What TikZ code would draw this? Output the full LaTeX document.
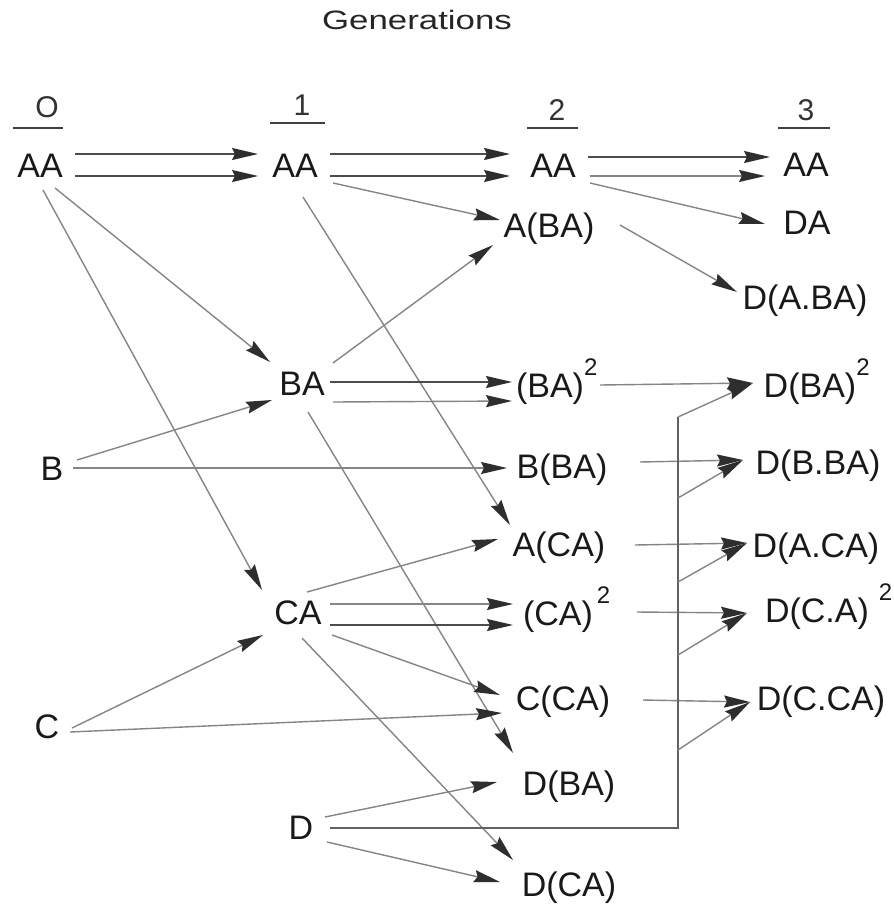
\documentclass[tikz,border=0pt]{standalone}
\usepackage{fontspec}
\setmainfont{Liberation Sans}
\usetikzlibrary{arrows.meta}
\newcommand\supx[2][0pt]{\rlap{\hspace{#1}\raisebox{11pt}{\fontsize{12}{12}\selectfont #2}}}
\begin{document}
\begin{tikzpicture}[x=0.5pt,y=-0.5pt,
  lbl/.style={inner sep=0pt, font=\fontsize{17}{20}\selectfont, text=black!90, text height=12.2pt, text depth=0pt},
  hdr/.style={inner sep=0pt, font=\fontsize{15}{18}\selectfont, text=black!80, text height=10.7pt, text depth=0pt},
  uline/.style={draw=black!75, line width=1pt},
  tip/.style={-{Stealth[length=13pt,width=6pt,inset=1.5pt,color=black!82]}},
  dk/.style={tip, draw=black!70, line width=0.8pt},
  lt/.style={tip, draw=black!48, line width=0.7pt},
  plain/.style={draw=black!48, line width=0.7pt}
]
\useasboundingbox (0,0) rectangle (894,905);
\fill[white] (0,0) rectangle (894,905);

% title and headers
\node[inner sep=0pt, text height=9.5pt, text depth=0pt, text=black!85] (title) at (417,20)
  {\fontsize{13.3}{16}\selectfont\scalebox{1.31}[1]{Generations}};
\node[hdr] (H0) at (47,107) {O};
\node[hdr] (H1) at (302,105) {1};
\node[hdr] (H2) at (557,110) {2};
\node[hdr] (H3) at (806,110) {3};
\draw[uline] ([shift={(-34,21)}]H0.center) -- ([shift={(16,21)}]H0.center);
\draw[uline] ([shift={(-32,18)}]H1.center) -- ([shift={(23,18)}]H1.center);
\draw[uline] ([shift={(-30,18)}]H2.center) -- ([shift={(21,18)}]H2.center);
\draw[uline] ([shift={(-28,18)}]H3.center) -- ([shift={(24,18)}]H3.center);

% nodes
\node[lbl] (AA0) at (40,165) {AA};
\node[lbl] (AA1) at (295,165) {AA};
\node[lbl] (AA2) at (553,165) {AA};
\node[lbl] (AA3) at (806,164) {AA};
\node[lbl] (DA) at (807,222) {DA};
\node[lbl] (ABA) at (549,225) {A(BA)};
\node[lbl] (DABA) at (805,297) {D(A.BA)};
\node[lbl] (BA) at (302,383) {BA};
\node[lbl] (BA2) at (550,385) {(BA)\supx{2}};
\node[lbl] (DBA2) at (810,385) {D(BA)\supx{2}};
\node[lbl] (B) at (52,468) {B};
\node[lbl] (BBA) at (562,466) {B(BA)};
\node[lbl] (DBBA) at (818,462) {D(B.BA)};
\node[lbl] (ACA) at (559,544) {A(CA)};
\node[lbl] (DACA) at (816,545) {D(A.CA)};
\node[lbl] (CA) at (298,612) {CA};
\node[lbl] (CA2) at (558,613) {(CA)\supx[2pt]{2}};
\node[lbl] (DCA2) at (817,610) {D(C.A)\supx[5pt]{2}};
\node[lbl] (C) at (47,726) {C};
\node[lbl] (CCA) at (563,698) {C(CA)};
\node[lbl] (DCCA) at (821,698) {D(C.CA)};
\node[lbl] (DBA) at (569,783) {D(BA)};
\node[lbl] (D) at (301,827) {D};
\node[lbl] (DCA) at (569,884) {D(CA)};

% generation 0 -> 1
\draw[dk] ([shift={(35,-11)}]AA0.center) -- ([shift={(-37,-11)}]AA1.center);
\draw[dk] ([shift={(35,11)}]AA0.center) -- ([shift={(-37,11)}]AA1.center);
\draw[lt] ([shift={(15,23)}]AA0.center) -- ([shift={(-32,-21)}]BA.center);
\draw[lt] ([shift={(3,25)}]AA0.center) -- ([shift={(-36,-22)}]CA.center);
\draw[lt] ([shift={(25,-8)}]B.center) -- ([shift={(-30,17)}]BA.center);
\draw[lt] ([shift={(25,2)}]C.center) -- ([shift={(-35,23)}]CA.center);

% generation 1 -> 2
\draw[dk] ([shift={(35,-11)}]AA1.center) -- ([shift={(-43,-11)}]AA2.center);
\draw[dk] ([shift={(35,11)}]AA1.center) -- ([shift={(-43,11)}]AA2.center);
\draw[lt] ([shift={(38,18)}]AA1.center) -- ([shift={(-49,-5)}]ABA.center);
\draw[lt] ([shift={(8,32)}]AA1.center) -- ([shift={(-49,-19)}]ACA.center);
\draw[lt] ([shift={(31,-20)}]BA.center) -- ([shift={(-56,20)}]ABA.center);
\draw[dk] ([shift={(28,-1)}]BA.center) -- ([shift={(-38,-3)}]BA2.center);
\draw[lt] ([shift={(31,19)}]BA.center) -- ([shift={(-38,16)}]BA2.center);
\draw[lt] ([shift={(6,29)}]BA.center) -- ([shift={(-56,-30)}]DBA.center);
\draw[lt] ([shift={(21,0)}]B.center) -- ([shift={(-55,2)}]BBA.center);
\draw[lt] ([shift={(9,-20)}]CA.center) -- ([shift={(-61,-5)}]ACA.center);
\draw[lt] ([shift={(32,-8)}]CA.center) -- ([shift={(-45,-9)}]CA2.center);
\draw[dk] ([shift={(32,13)}]CA.center) -- ([shift={(-45,12)}]CA2.center);
\draw[lt] ([shift={(34,23)}]CA.center) -- ([shift={(-63,-3)}]CCA.center);
\draw[lt] ([shift={(4,26)}]CA.center) -- ([shift={(-56,-24)}]DCA.center);
\draw[lt] ([shift={(23,6)}]C.center) -- ([shift={(-61,15)}]CCA.center);
\draw[lt] ([shift={(24,-10)}]D.center) -- ([shift={(-72,-1)}]DBA.center);
\draw[lt] ([shift={(26,15)}]D.center) -- ([shift={(-69,-2)}]DCA.center);

% generation 2 -> 3
\draw[dk] ([shift={(35,-8)}]AA2.center) -- ([shift={(-36,-7)}]AA3.center);
\draw[lt] ([shift={(37,11)}]AA2.center) -- ([shift={(-41,12)}]AA3.center);
\draw[lt] ([shift={(37,18)}]AA2.center) -- ([shift={(-42,2)}]DA.center);
\draw[lt] ([shift={(71,0)}]ABA.center) -- ([shift={(-68,-5)}]DABA.center);

% tips of the generation-3 D products
\coordinate (tDBA2) at ([shift={(-57,-2)}]DBA2.center);
\coordinate (tDBBA) at ([shift={(-75,-2)}]DBBA.center);
\coordinate (tDACA) at ([shift={(-69,-2)}]DACA.center);
\coordinate (tDCA2) at ([shift={(-70,3)}]DCA2.center);
\coordinate (tDCCA) at ([shift={(-71,4)}]DCCA.center);

\draw[lt] ([shift={(50,0)}]BA2.center) -- (tDBA2);
\draw[lt] ([shift={(78,-4)}]BBA.center) -- (tDBBA);
\draw[lt] ([shift={(76,1)}]ACA.center) -- (tDACA);
\draw[lt] ([shift={(79,-1)}]CA2.center) -- (tDCA2);
\draw[lt] ([shift={(80,2)}]CCA.center) -- (tDCCA);

% D bus
\coordinate (j1) at (678,417);
\coordinate (j2) at (678,498);
\coordinate (j3) at (678,582);
\coordinate (j4) at (678,655);
\coordinate (j5) at (678,750);
\draw[draw=black!62, line width=0.8pt] ([shift={(29,1)}]D.center) -| (j1);
\draw[lt] (j1) -- (tDBA2);
\draw[lt] (j2) -- (tDBBA);
\draw[lt] (j3) -- (tDACA);
\draw[lt] (j4) -- (tDCA2);
\draw[lt] (j5) -- (tDCCA);
\end{tikzpicture}
\end{document}
